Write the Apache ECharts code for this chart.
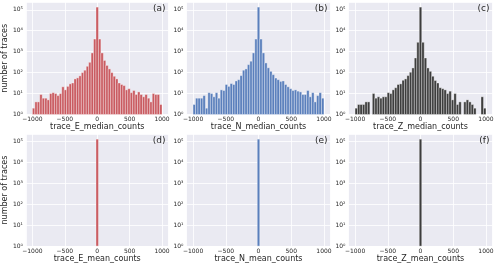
<!DOCTYPE html>
<html><head><meta charset="utf-8">
<script src="https://cdn.jsdelivr.net/npm/echarts@6/dist/echarts.min.js"></script>
<style>html,body{margin:0;padding:0;background:#fff}#c{width:500px;height:264px}</style>
</head><body><div id="c"></div>
<script>
// Histogram bins
const BIN_MIN = -1000, BIN_MAX = 1000, N_BINS = 53;
const X_TICKS = [-1000, -500, 0, 500, 1000];
const Y_TICK_LABELS = ['10⁰', '10¹', '10²', '10³', '10⁴', '10⁵'];

// counts per bin
const eMedian = [2,4,4,9,6,6,5,10,11,10,8,10,21,15,22,29,32,50,56,70,100,130,200,310,870,4000,
  134000,
  4000,870,380,220,150,100,67,50,32,27,24,15,17,11,14,9,12,9,7,9,6,4,10,9,9,3];
const nMedian = [3,6,6,6,8,2,11,10,7,11,6,15,14,27,22,30,27,40,46,72,130,150,240,350,870,4000,
  134000,
  4000,870,290,170,115,80,55,46,38,40,27,21,17,14,15,13,12,9,9,14,7,11,4,8,11,6];
const zMedian = [2,3,3,3,4,4,0,10,6,7,6,7,7,11,10,15,19,27,29,43,50,72,104,167,500,2800,
  134000,
  2800,500,167,115,67,42,32,19,17,15,10,13,5,10,3,4,0,4,5,4,3,2,0,0,7,2];
const eMean = [0,0,0,0,0,0,0,0,0,0,0,0,0,0,0,0,0,0,0,0,0,0,0,0,0,0,
  133000,
  0,0,0,0,0,0,0,0,0,0,0,0,0,0,0,0,0,0,0,0,0,0,0,0,0,0];
const nMean = [0,0,0,0,0,0,0,0,0,0,0,0,0,0,0,0,0,0,0,0,0,0,0,0,0,0,
  133000,
  0,0,0,0,0,0,0,0,0,0,0,0,0,0,0,0,0,0,0,0,0,0,0,0,0,0];
const zMean = [0,0,0,0,0,0,0,0,0,0,0,0,0,0,0,0,0,0,0,0,0,0,0,0,0,0,
  133000,
  0,0,0,0,0,0,0,0,0,0,0,0,0,0,0,0,0,0,0,0,0,0,0,0,0,0];

const panels = [
  {counts: eMedian, name: 'trace_E_median_counts', letter: '(a)', color: '#c95a60'},
  {counts: nMedian, name: 'trace_N_median_counts', letter: '(b)', color: '#5a7fbc'},
  {counts: zMedian, name: 'trace_Z_median_counts', letter: '(c)', color: '#3d3d3d'},
  {counts: eMean, name: 'trace_E_mean_counts', letter: '(d)', color: '#c95a60'},
  {counts: nMean, name: 'trace_N_mean_counts', letter: '(e)', color: '#5a7fbc'},
  {counts: zMean, name: 'trace_Z_mean_counts', letter: '(f)', color: '#3d3d3d'}
];

const TXT = '#262626';
const FONT = 'DejaVu Sans';
const colLeft = [24.5, 186.5, 348.5];
const rowTop = [2, 134];
const GW = 144, GH = 112.5;

const binW = (BIN_MAX - BIN_MIN) / N_BINS;
function binData(counts) {
  return counts.map((v, i) => [BIN_MIN + i * binW, BIN_MIN + (i + 1) * binW, v > 0 ? v : '-']);
}
function makeRender(color) {
  return function (params, api) {
    const v = api.value(2);
    if (!(v > 0)) return;
    const p0 = api.coord([api.value(0), v]);
    const p1 = api.coord([api.value(1), 1]);
    return {
      type: 'rect',
      shape: {x: p0[0], y: p0[1], width: p1[0] - p0[0], height: p1[1] - p0[1]},
      style: {fill: color, stroke: '#ffffff', lineWidth: 0.35}
    };
  };
}

const grids = [], xAxes = [], yAxes = [], series = [], titles = [];
panels.forEach((p, i) => {
  const c = i % 3, r = Math.floor(i / 3);
  grids.push({left: colLeft[c], top: rowTop[r], width: GW, height: GH,
    show: true, backgroundColor: '#eaeaf2', borderWidth: 0});
  xAxes.push({
    type: 'value', gridIndex: i, min: -1100, max: 1100, splitNumber: 4,
    name: p.name, nameLocation: 'middle', nameGap: r === 0 ? 8 : 7,
    nameTextStyle: {fontSize: 8, color: TXT, fontFamily: FONT},
    axisLine: {show: false}, axisTick: {show: false},
    splitLine: {show: true, lineStyle: {color: '#ffffff', width: 0.8}},
    axisLabel: {fontSize: 6, color: TXT, fontFamily: FONT, margin: 2,
      customValues: X_TICKS,
      formatter: v => (X_TICKS.indexOf(v) >= 0 ? String(v).replace('-', '\u2212') : '')}
  });
  yAxes.push({
    type: 'log', logBase: 10, gridIndex: i, min: 1, max: 235000,
    name: c === 0 ? 'number of traces' : '', nameLocation: 'middle', nameGap: 13,
    nameTextStyle: {fontSize: 8, color: TXT, fontFamily: FONT},
    axisLine: {show: false}, axisTick: {show: false},
    splitLine: {show: true, lineStyle: {color: '#ffffff', width: 0.8}},
    axisLabel: {fontSize: 6, color: TXT, fontFamily: FONT, margin: 3,
      formatter: v => {
        const e = Math.log10(v);
        const k = Math.round(e);
        return Math.abs(e - k) < 1e-6 && k >= 0 && k < Y_TICK_LABELS.length ? Y_TICK_LABELS[k] : '';
      }}
  });
  series.push({
    type: 'custom', xAxisIndex: i, yAxisIndex: i,
    data: binData(p.counts), encode: {x: [0, 1], y: 2},
    renderItem: makeRender(p.color), silent: true
  });
  titles.push({text: p.letter, right: 500 - (colLeft[c] + GW - 3), top: r === 0 ? 4 : 136,
    padding: 0, textStyle: {fontSize: 9, fontWeight: 'normal', color: TXT, fontFamily: FONT}});
});

const chart = echarts.init(document.getElementById('c'), null, {renderer: 'canvas'});
chart.setOption({
  animation: false,
  backgroundColor: '#ffffff',
  textStyle: {fontFamily: FONT},
  title: titles,
  grid: grids, xAxis: xAxes, yAxis: yAxes, series: series
});
</script>
</body></html>
